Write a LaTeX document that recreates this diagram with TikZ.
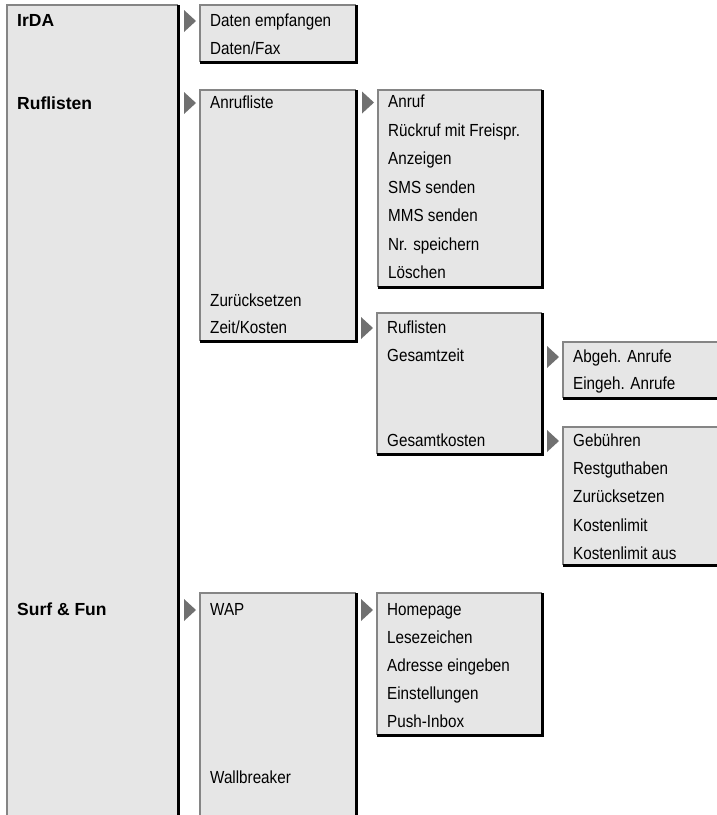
\documentclass[tikz,border=0pt]{standalone}
\usepackage{fontspec}
\setmainfont[FakeStretch=0.87]{Liberation Sans}
\newfontfamily\headfont{Liberation Sans}
\usepackage{tikz}
\usetikzlibrary{positioning}
\definecolor{boxfill}{HTML}{E6E6E6}
\definecolor{edgegray}{HTML}{858585}
\definecolor{markgray}{HTML}{707070}

\begin{document}
\begin{tikzpicture}[x=1pt, y=-1pt,
  item/.style={anchor=base west, inner sep=0pt,
               font=\fontsize{17.5}{20}\selectfont},
  head/.style={anchor=base west, inner sep=0pt,
               font=\headfont\fontsize{17.5}{20}\selectfont\bfseries},
  lightedge/.style={draw=edgegray, line width=2pt},
  darkedge/.style={draw=black, line width=3pt},
  marker/.style={fill=markgray},
]
  \useasboundingbox (0,0) rectangle (717,815);
  \clip (0,0) rectangle (717,815);

  %% ---- BOXES ----
  \foreach \xa/\ya/\xb/\yb in {7/5/178/830, 200/5/356/62, 200/90/356/341,
      378/90/542/287, 377/313/542/454, 563/342/725/398, 563/427/725/565,
      200/593/356/830, 377/593/542/735} {
    \fill[boxfill] (\xa,\ya) rectangle (\xb,\yb);
    \draw[lightedge] (\xa,\yb) -- (\xa,\ya) -- (\xb,\ya);
    \draw[darkedge] (\xb,\ya) -- (\xb,\yb) -- (\xa,\yb);
  }

  %% ---- MAIN MENU ----
  \node[head] (irda) at (17,26)  {IrDA};
  \node[head] (rufl) at (17,109) {Ruflisten};
  \node[head] (surf) at (17,615) {Surf \& Fun};

  %% ---- IrDA ----
  \node[item] (d1) at (210,26) {Daten empfangen};
  \node[item] (d2) at (210,54) {Daten/Fax};

  %% ---- Ruflisten ----
  \node[item] (a1) at (210,108) {Anrufliste};
  \node[item] (a2) at (210,306) {Zurücksetzen};
  \node[item] (a3) at (210,333) {Zeit/Kosten};

  \node[item] (c1) at (388,107.5) {Anruf};
  \node[item] (c2) at (388,136)   {Rückruf mit Freispr.};
  \node[item] (c3) at (388,164.5) {Anzeigen};
  \node[item] (c4) at (388,193)   {SMS senden};
  \node[item] (c5) at (388,221.5) {MMS senden};
  \node[item] (c6) at (388,250)   {Nr. speichern};
  \node[item] (c7) at (388,278.5) {Löschen};

  \node[item] (k1) at (387,333)   {Ruflisten};
  \node[item] (k2) at (387,361.5) {Gesamtzeit};
  \node[item] (k3) at (387,446)   {Gesamtkosten};

  \node[item] (g1) at (573,362) {Abgeh. Anrufe};
  \node[item] (g2) at (573,389) {Eingeh. Anrufe};

  \node[item] (f1) at (573,446)   {Gebühren};
  \node[item] (f2) at (573,474)   {Restguthaben};
  \node[item] (f3) at (573,502.5) {Zurücksetzen};
  \node[item] (f4) at (573,531)   {Kostenlimit};
  \node[item] (f5) at (573,559)   {Kostenlimit aus};

  %% ---- Surf & Fun ----
  \node[item] (w1) at (210,615) {WAP};
  \node[item] (w2) at (210,783) {Wallbreaker};

  \node[item] (h1) at (387,615) {Homepage};
  \node[item] (h2) at (387,643) {Lesezeichen};
  \node[item] (h3) at (387,671) {Adresse eingeben};
  \node[item] (h4) at (387,699) {Einstellungen};
  \node[item] (h5) at (387,727) {Push-Inbox};

  %% ---- MARKERS ----
  \foreach \n in {d1, a1, c1, k1, g1, f1, w1, h1}
    \fill[marker] (\n.base west) ++(-26,-16) -- ++(12,11) -- ++(-12,11) -- cycle;
\end{tikzpicture}
\end{document}
